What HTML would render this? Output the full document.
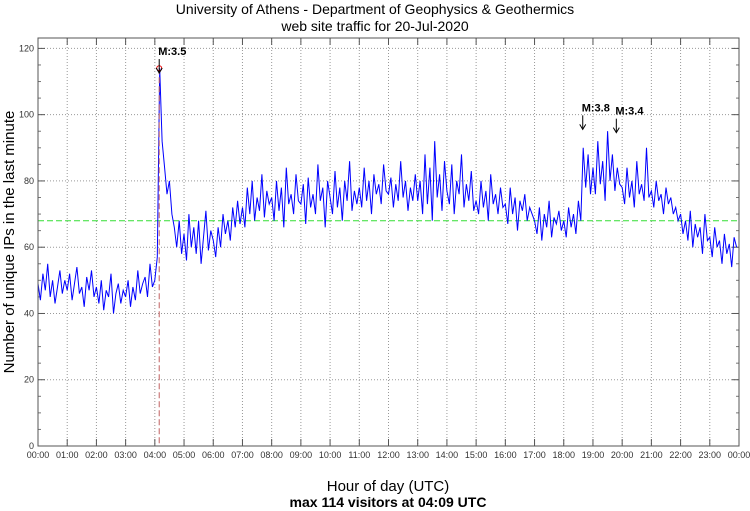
<!DOCTYPE html>
<html><head><meta charset="utf-8"><style>
body{margin:0;background:#fff;width:750px;height:511px;overflow:hidden}
svg{display:block;font-family:"Liberation Sans",sans-serif}
</style></head><body>
<svg id="c" width="750" height="511" xmlns="http://www.w3.org/2000/svg">
<text x="375" y="14" text-anchor="middle" font-size="14">University of Athens - Department of Geophysics &amp; Geothermics</text>
<text x="375" y="31" text-anchor="middle" font-size="14">web site traffic for 20-Jul-2020</text>
<text transform="translate(14,242) rotate(-90)" text-anchor="middle" font-size="15">Number of unique IPs in the last minute</text>
<text x="388" y="491" text-anchor="middle" font-size="15">Hour of day (UTC)</text>
<text x="388" y="507" text-anchor="middle" font-size="14" font-weight="bold">max 114 visitors at 04:09 UTC</text>
<g id="grid"></g><g id="series"></g><g id="ann"></g>
<rect x="38" y="38" width="701" height="408" fill="none" stroke="#555" stroke-width="1"/>
</svg>
<script>
const xTickLabels=["00:00","01:00","02:00","03:00","04:00","05:00","06:00","07:00","08:00","09:00","10:00","11:00","12:00","13:00","14:00","15:00","16:00","17:00","18:00","19:00","20:00","21:00","22:00","23:00","00:00"];
const yTicks=[0,20,40,60,80,100,120];
const average=68;
const peakHour=4+9/60, peakValue=114;
const events=[{label:"M:3.5",hour:4.15,val:118},{label:"M:3.8",hour:18.65,val:101},{label:"M:3.4",hour:19.8,val:100}];
const visitors=[
49,44,52,47,55,45,50,43,48,53,46,50,
47,52,44,49,54,46,48,42,51,47,53,45,
48,43,50,41,47,45,52,40,46,49,43,47,
45,50,42,48,44,53,46,49,51,45,55,48,
50,57,114,92,84,76,80,70,66,60,68,58,
64,56,70,60,66,58,68,55,63,71,59,65,
62,57,66,60,70,64,68,62,72,66,74,67,
72,66,78,70,80,68,75,71,82,69,77,73,
75,68,80,71,78,66,84,73,76,70,82,74,
73,79,67,81,72,76,70,85,74,78,66,80,
75,70,83,72,78,68,80,74,86,71,77,73,
78,72,84,74,80,70,82,76,79,73,85,77,
76,81,72,79,74,86,75,80,71,78,74,82,
74,80,70,88,73,84,68,92,75,82,71,86,
77,73,85,70,80,76,88,72,79,74,83,71,
74,70,80,72,77,68,82,73,76,70,78,72,
73,67,78,70,75,65,74,71,76,68,72,70,
68,64,72,62,70,66,74,63,69,67,71,65,
68,63,72,66,70,64,74,68,90,78,88,76,
84,76,92,79,86,74,95,80,88,77,84,79,
78,73,84,75,80,72,86,76,79,74,90,75,
77,72,80,74,76,70,78,73,75,70,72,68,
70,64,68,62,71,60,67,63,66,58,70,62,
63,57,66,60,62,55,64,58,61,54,63,60];
const X0=38,X1=739,Y0=446,YT=48.4;
const x=h=>X0+(X1-X0)*h/24;
const y=v=>Y0-(Y0-YT)*v/120;
const NS="http://www.w3.org/2000/svg";
function mk(tag,attrs,parent,txt){const e=document.createElementNS(NS,tag);for(const k in attrs)e.setAttribute(k,attrs[k]);if(txt!==undefined)e.textContent=txt;parent.appendChild(e);return e;}
const g=document.getElementById('grid');
xTickLabels.forEach((t,i)=>{
  const xx=x(i);
  if(i>0&&i<24){const l=mk('line',{x1:xx,x2:xx,y1:38,y2:446,stroke:'#999','stroke-dasharray':'1,2'},g);
  }
  mk('line',{x1:xx,x2:xx,y1:446,y2:439,stroke:'#555'},g);
  mk('line',{x1:xx,x2:xx,y1:38,y2:45,stroke:'#555'},g);
  const tx=mk('text',{x:xx,y:458,'text-anchor':'middle','font-size':9,fill:'#333'},g,t);
  
});
yTicks.forEach(v=>{
  const yy=y(v);
  if(v>0){const l=mk('line',{x1:38,x2:739,y1:yy,y2:yy,stroke:'#999','stroke-dasharray':'1,2'},g);
  }
  mk('line',{x1:38,x2:45,y1:yy,y2:yy,stroke:'#555'},g);
  mk('line',{x1:732,x2:739,y1:yy,y2:yy,stroke:'#555'},g);
  const tx=mk('text',{x:34,y:yy+3,'text-anchor':'end','font-size':9,fill:'#333'},g,String(v));
  
});
for(let v=0;v<=120;v+=5){if(v%20){mk('line',{x1:38,x2:41,y1:y(v),y2:y(v),stroke:'#777'},g);mk('line',{x1:736,x2:739,y1:y(v),y2:y(v),stroke:'#777'},g);}}
const s=document.getElementById('series');
const avg=mk('line',{x1:38,x2:739,y1:y(average),y2:y(average),stroke:'#33dd33','stroke-dasharray':'6,3'},s);

const n=visitors.length;
const pts=visitors.map((v,i)=>x(i*24/n).toFixed(1)+','+y(v).toFixed(1)).join(' ');
const pl=mk('polyline',{points:pts,fill:'none',stroke:'#0000ff','stroke-width':1},s);

const vl=mk('line',{x1:x(peakHour),x2:x(peakHour),y1:y(peakValue),y2:446,stroke:'#c06060','stroke-dasharray':'6,3'},s);

const pc=mk('circle',{cx:x(peakHour),cy:y(peakValue),r:2.5,fill:'none',stroke:'#e00'},s);

const a=document.getElementById('ann');
events.forEach(ev=>{
  const xx=x(ev.hour),yy=y(ev.val);
  const t=mk('text',{x:xx-1,y:yy,'font-size':11,'font-weight':'bold'},a,ev.label);
  
  mk('line',{x1:xx,x2:xx,y1:yy+4,y2:yy+17,stroke:'#000'},a);
  mk('path',{d:`M${xx-3},${yy+13} L${xx},${yy+18} L${xx+3},${yy+13}`,fill:'none',stroke:'#000'},a);
});
</script>
</body></html>
